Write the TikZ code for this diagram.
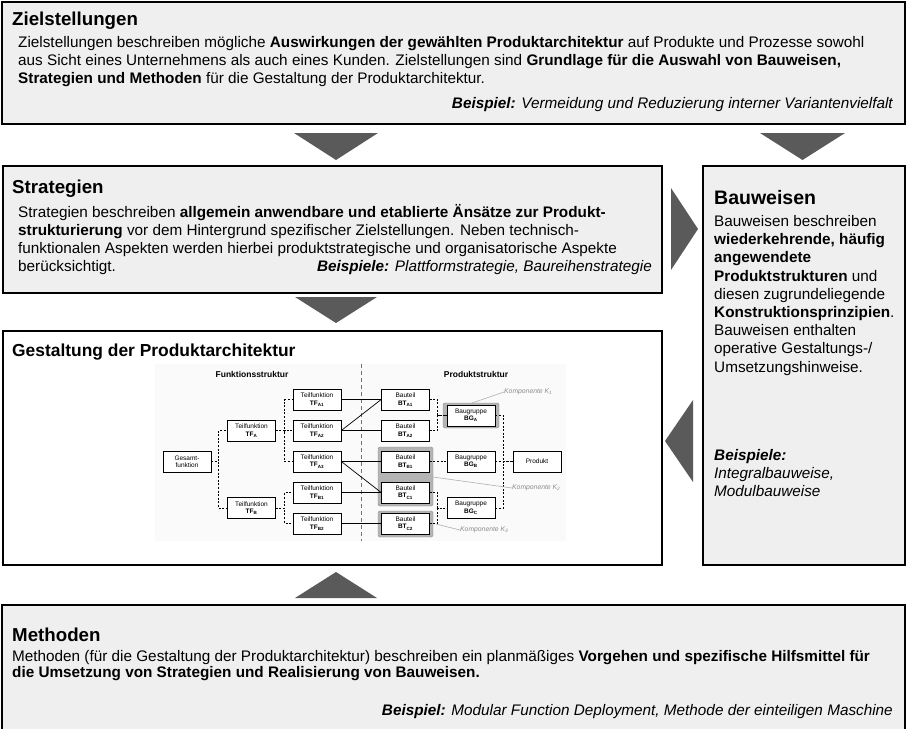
\documentclass[tikz,border=0pt]{standalone}
\usepackage{fontspec}
\setmainfont{Liberation Sans}
\definecolor{panelgray}{HTML}{EFEFEF}
\definecolor{arrowgray}{HTML}{5A5A5A}
\definecolor{compgray}{HTML}{B4B4B4}
\definecolor{notegray}{HTML}{8C8C8C}
\begin{document}
\begin{tikzpicture}[x=1pt,y=-1pt,
  panel/.style={draw=black, line width=2pt, fill=panelgray},
  bigarrow/.style={fill=arrowgray, draw=none},
  ptitle/.style={font=\fontsize{18.7}{22}\selectfont\bfseries, anchor=base west, inner sep=0pt},
  body/.style={font=\fontsize{15.3}{18}\selectfont, anchor=base west, inner sep=0pt},
  example/.style={font=\fontsize{15.3}{18}\selectfont\itshape, anchor=base east, inner sep=0pt},
  exleft/.style={font=\fontsize{15.3}{18}\selectfont\itshape, anchor=base west, inner sep=0pt},
  ibox/.style={draw=black, line width=0.6pt, fill=white, minimum width=48pt, minimum height=21pt,
    inner sep=0pt, align=center, font=\fontsize{6.5}{7.4}\selectfont},
  ihead/.style={font=\fontsize{8.5}{10}\selectfont\bfseries, inner sep=0pt},
  comp/.style={fill=compgray, draw=compgray!80!black, line width=0.4pt, rounded corners=1.5pt},
  note/.style={font=\fontsize{6.8}{8}\selectfont\itshape, text=notegray, inner sep=0pt},
  leader/.style={draw=notegray!70, line width=0.6pt},
  tree/.style={draw=black, line width=0.7pt, dash pattern=on 2pt off 1.6pt},
  link/.style={draw=black, line width=0.7pt}
]
\useasboundingbox (0,0) rectangle (907,728);

% ---------- panels ----------
\draw[panel] (2,2) rectangle (905,124);
\draw[panel] (3,166) rectangle (662,293);
\draw[panel] (703,166) rectangle (905,565);
\draw[panel, fill=white] (3,331) rectangle (662,565);
\draw[panel] (2,605) rectangle (905,740);

% ---------- flow arrows ----------
\fill[bigarrow] (294,133) -- (378,133) -- (336,160) -- cycle;
\fill[bigarrow] (760,133) -- (845,133) -- (802.5,160) -- cycle;
\fill[bigarrow] (671,188) -- (698,229) -- (671,270) -- cycle;
\fill[bigarrow] (295,297) -- (377,297) -- (336,323) -- cycle;
\fill[bigarrow] (693,400) -- (665,441) -- (693,482) -- cycle;
\fill[bigarrow] (295,598) -- (377,598) -- (336,572) -- cycle;

% ---------- Zielstellungen ----------
\node[ptitle] (zT) at (12,25) {Zielstellungen};
\node[body] (z1) at (18,47.5) {Zielstellungen beschreiben mögliche \textbf{Auswirkungen der gewählten Produktarchitektur} auf Produkte und Prozesse sowohl};
\node[body] (z2) at (18,65.5) {aus Sicht eines Unternehmens als auch eines Kunden. Zielstellungen sind \textbf{Grundlage für die Auswahl von Bauweisen,}};
\node[body] (z3) at (18,83.5) {\textbf{Strategien und Methoden} für die Gestaltung der Produktarchitektur.};
\node[example] (zB) at (893,108.5) {\textbf{Beispiel:} Vermeidung und Reduzierung interner Variantenvielfalt};

% ---------- Strategien ----------
\node[ptitle] (sT) at (12,193) {Strategien};
\node[body] (s1) at (18,217.5) {Strategien beschreiben \textbf{allgemein anwendbare und etablierte Änsätze zur Produkt-}};
\node[body] (s2) at (18,235.5) {\textbf{strukturierung} vor dem Hintergrund spezifischer Zielstellungen. Neben technisch-};
\node[body] (s3) at (18,253.5) {funktionalen Aspekten werden hierbei produktstrategische und organisatorische Aspekte};
\node[body] (s4) at (18,271.5) {berücksichtigt.};
\node[example] (sB) at (652,271.5) {\textbf{Beispiele:} Plattformstrategie, Baureihenstrategie};

% ---------- Bauweisen ----------
\node[ptitle, font=\fontsize{19.5}{23}\selectfont\bfseries] (bT) at (714,204) {Bauweisen};
\node[body] (b1) at (714,226.5) {Bauweisen beschreiben};
\node[body] (b2) at (714,244.7) {\textbf{wiederkehrende, häufig}};
\node[body] (b3) at (714,262.9) {\textbf{angewendete}};
\node[body] (b4) at (714,281.1) {\textbf{Produktstrukturen} und};
\node[body] (b5) at (714,299.3) {diesen zugrundeliegende};
\node[body] (b6) at (714,317.5) {\textbf{Konstruktionsprinzipien}.};
\node[body] (b7) at (714,335.7) {Bauweisen enthalten};
\node[body] (b8) at (714,353.9) {operative Gestaltungs-/};
\node[body] (b9) at (714,372.1) {Umsetzungshinweise.};
\node[exleft] (bB1) at (714,460.5) {\textbf{Beispiele:}};
\node[exleft] (bB2) at (714,478.7) {Integralbauweise,};
\node[exleft] (bB3) at (714,496.9) {Modulbauweise};

% ---------- Gestaltung der Produktarchitektur ----------
\node[ptitle, font=\fontsize{17.4}{21}\selectfont\bfseries] (gT) at (12,356.5) {Gestaltung der Produktarchitektur};

% structure diagram background and divider
\fill[black!2] (155,364) rectangle (566,541);
\draw[draw=black!55, line width=0.7pt, dash pattern=on 4pt off 3pt] (361,364) -- (361,541);
\node[ihead] (fs) at (252,374) {Funktionsstruktur};
\node[ihead] (ps) at (476,374) {Produktstruktur};

% component highlights
\draw[comp] (443,403) rectangle (499,428);
\draw[comp] (378,447) rectangle (433,506);
\draw[comp] (378,511) rectangle (433,537);

% function structure
\node[ibox] (ges) at (187,461.5) {Gesamt-\\funktion};
\node[ibox] (tfa) at (251.5,430.5) {Teilfunktion\\\textbf{TF\textsubscript{A}}};
\node[ibox] (tfb) at (251.5,508) {Teilfunktion\\\textbf{TF\textsubscript{B}}};
\node[ibox] (tfa1) at (317,399.5) {Teilfunktion\\\textbf{TF\textsubscript{A1}}};
\node[ibox] (tfa2) at (317,430.5) {Teilfunktion\\\textbf{TF\textsubscript{A2}}};
\node[ibox] (tfa3) at (317,461.5) {Teilfunktion\\\textbf{TF\textsubscript{A3}}};
\node[ibox] (tfb1) at (317,492.5) {Teilfunktion\\\textbf{TF\textsubscript{B1}}};
\node[ibox] (tfb2) at (317,523.5) {Teilfunktion\\\textbf{TF\textsubscript{B2}}};

% product structure
\node[ibox] (bta1) at (405.5,399.5) {Bauteil\\\textbf{BT\textsubscript{A1}}};
\node[ibox] (bta2) at (405.5,430.5) {Bauteil\\\textbf{BT\textsubscript{A2}}};
\node[ibox] (btb1) at (405.5,461.5) {Bauteil\\\textbf{BT\textsubscript{B1}}};
\node[ibox] (btc1) at (405.5,492.5) {Bauteil\\\textbf{BT\textsubscript{C1}}};
\node[ibox] (btc2) at (405.5,523.5) {Bauteil\\\textbf{BT\textsubscript{C2}}};
\node[ibox] (bga) at (471,415.5) {Baugruppe\\\textbf{BG\textsubscript{A}}};
\node[ibox] (bgb) at (471,461.5) {Baugruppe\\\textbf{BG\textsubscript{B}}};
\node[ibox] (bgc) at (471,508) {Baugruppe\\\textbf{BG\textsubscript{C}}};
\node[ibox] (prod) at (537,461.5) {Produkt};

% hierarchy (dashed trees)
\draw[tree] (ges.east) -- ++(7,0) |- (tfa.west);
\draw[tree] (ges.east) -- ++(7,0) |- (tfb.west);
\draw[tree] (tfa.east) -- ++(9,0) |- (tfa1.west);
\draw[tree] (tfa.east) -- ++(9,0) |- (tfa2.west);
\draw[tree] (tfa.east) -- ++(9,0) |- (tfa3.west);
\draw[tree] (tfb.east) -- ++(9,0) |- (tfb1.west);
\draw[tree] (tfb.east) -- ++(9,0) |- (tfb2.west);
\draw[tree] (bta1.east) -- ++(8,0) |- (bga.west);
\draw[tree] (bta2.east) -- ++(8,0) |- (bga.west);
\draw[tree] (btb1.east) -- (bgb.west);
\draw[tree] (btc1.east) -- ++(8,0) |- (bgc.west);
\draw[tree] (btc2.east) -- ++(8,0) |- (bgc.west);
\draw[tree] (bga.east) -- ++(8,0) |- (prod.west);
\draw[tree] (bgb.east) -- (prod.west);
\draw[tree] (bgc.east) -- ++(8,0) |- (prod.west);

% allocation of functions to parts
\draw[link] (tfa1.east) -- (bta1.west);
\draw[link] (tfa2.east) -- (bta1.west);
\draw[link] (tfa2.east) -- (bta2.west);
\draw[link] (tfa3.east) -- (btb1.west);
\draw[link] (tfa3.east) -- (btc1.west);
\draw[link] (tfb1.east) -- (btc1.west);
\draw[link] (tfb2.east) -- (btc2.west);

% component labels
\node[note, anchor=west] (k1) at (504,392) {Komponente K\textsubscript{1}};
\node[note, anchor=west] (k2) at (512,488) {Komponente K\textsubscript{2}};
\node[note, anchor=west] (k3) at (460,530) {Komponente K\textsubscript{3}};
\coordinate (k1s) at (472,403);
\coordinate (k2s) at (433,477);
\coordinate (k3s) at (436,524);
\draw[leader] (k1s) -- (k1.west);
\draw[leader] (k2s) -- (k2.west);
\draw[leader] (k3s) -- (k3.west);

% ---------- Methoden ----------
\node[ptitle] (mT) at (12,641) {Methoden};
\node[body] (m1) at (12,661) {Methoden (für die Gestaltung der Produktarchitektur) beschreiben ein planmäßiges \textbf{Vorgehen und spezifische Hilfsmittel für}};
\node[body] (m2) at (12,677.5) {\textbf{die Umsetzung von Strategien und Realisierung von Bauweisen.}};
\node[example] (mB) at (893,715.5) {\textbf{Beispiel:} Modular Function Deployment, Methode der einteiligen Maschine};
\end{tikzpicture}
\end{document}
